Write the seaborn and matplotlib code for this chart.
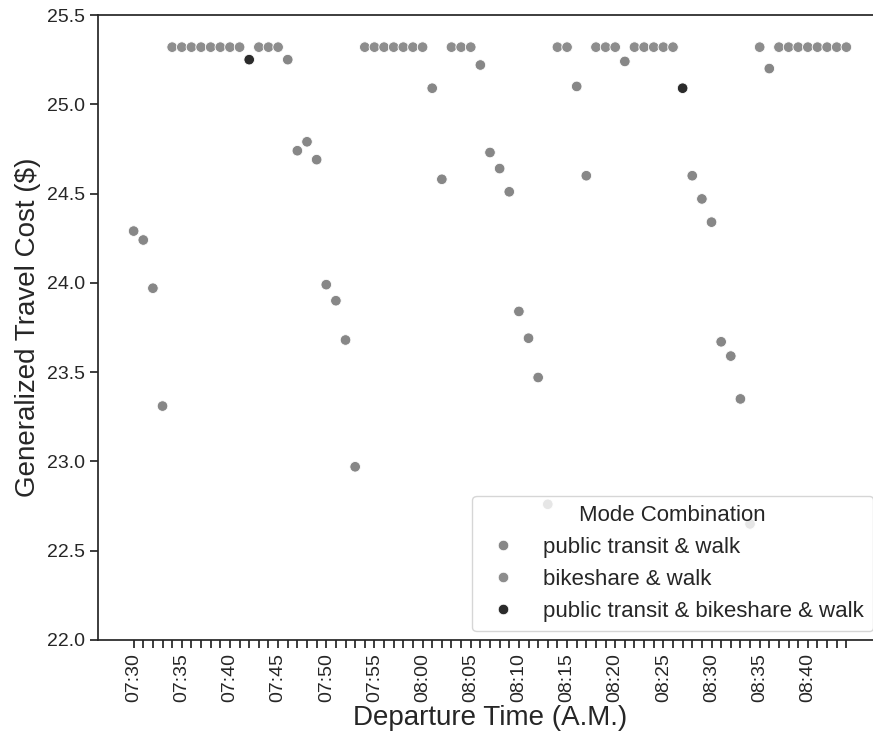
import numpy as np
import pandas as pd
import matplotlib
matplotlib.use("Agg")
import matplotlib.pyplot as plt
import matplotlib.dates as mdates
import seaborn as sns

# ---- data ----
times = ["07:30", "07:31", "07:32", "07:33", "07:34", "07:35", "07:36", "07:37", "07:38", "07:39",
         "07:40", "07:41", "07:42", "07:43", "07:44", "07:45", "07:46", "07:47", "07:48", "07:49",
         "07:50", "07:51", "07:52", "07:53", "07:54", "07:55", "07:56", "07:57", "07:58", "07:59",
         "08:00", "08:01", "08:02", "08:03", "08:04", "08:05", "08:06", "08:07", "08:08", "08:09",
         "08:10", "08:11", "08:12", "08:13", "08:14", "08:15", "08:16", "08:17", "08:18", "08:19",
         "08:20", "08:21", "08:22", "08:23", "08:24", "08:25", "08:26", "08:27", "08:28", "08:29",
         "08:30", "08:31", "08:32", "08:33", "08:34", "08:35", "08:36", "08:37", "08:38", "08:39",
         "08:40", "08:41", "08:42", "08:43", "08:44"]

costs = [24.29, 24.24, 23.97, 23.31, 25.32, 25.32, 25.32, 25.32, 25.32, 25.32,
         25.32, 25.32, 25.25, 25.32, 25.32, 25.32, 25.25, 24.74, 24.79, 24.69,
         23.99, 23.90, 23.68, 22.97, 25.32, 25.32, 25.32, 25.32, 25.32, 25.32,
         25.32, 25.09, 24.58, 25.32, 25.32, 25.32, 25.22, 24.73, 24.64, 24.51,
         23.84, 23.69, 23.47, 22.76, 25.32, 25.32, 25.10, 24.60, 25.32, 25.32,
         25.32, 25.24, 25.32, 25.32, 25.32, 25.32, 25.32, 25.09, 24.60, 24.47,
         24.34, 23.67, 23.59, 23.35, 22.65, 25.32, 25.20, 25.32, 25.32, 25.32,
         25.32, 25.32, 25.32, 25.32, 25.32]

T = "public transit & walk"
B = "bikeshare & walk"
C = "public transit & bikeshare & walk"
modes = [T, T, T, T, B, B, B, B, B, B,
         B, B, C, B, B, B, T, T, T, T,
         T, T, T, T, B, B, B, B, B, B,
         B, T, T, B, B, B, T, T, T, T,
         T, T, T, T, B, B, T, T, B, B,
         B, T, B, B, B, B, B, C, T, T,
         T, T, T, T, T, B, T, B, B, B,
         B, B, B, B, B]

mode_order = [T, B, C]
mode_colors = ["#878787", "#8d8d8d", "#2b2b2b"]

# ---- plot ----
sns.set_theme(style="ticks")
plt.rcParams["font.family"] = ["Liberation Sans", "DejaVu Sans"]

df = pd.DataFrame({
    "Departure Time": pd.to_datetime(times, format="%H:%M"),
    "Cost": costs,
    "Mode Combination": modes,
})

fig = plt.figure(figsize=(8.73, 7.38), dpi=100)
W, H = 873, 738
ax = fig.add_axes([98 / W, (H - 640) / H, (882 - 98) / W, (640 - 15) / H])

sns.scatterplot(data=df, x="Departure Time", y="Cost", hue="Mode Combination",
                hue_order=mode_order, palette=dict(zip(mode_order, mode_colors)),
                s=58, edgecolor="white", linewidth=0.6, ax=ax)

tick_pos = mdates.date2num(df["Departure Time"])
ax.set_xticks(tick_pos)
ax.set_xticklabels([t if i % 5 == 0 else "" for i, t in enumerate(times)],
                   rotation=90, fontsize=14)
ax.set_ylim(22.0, 25.5)
ax.set_yticks(np.arange(22.0, 25.51, 0.5))
ax.set_yticklabels([f"{v:.1f}" for v in np.arange(22.0, 25.51, 0.5)], fontsize=14)

ax.set_xlabel("Departure Time (A.M.)", fontsize=20, labelpad=2)
ax.set_ylabel("Generalized Travel Cost ($)", fontsize=20)

leg = ax.legend(title="Mode Combination", loc="lower right", fontsize=16,
                title_fontsize=16, borderaxespad=0.4)

fig.savefig("out.png", dpi=100)
